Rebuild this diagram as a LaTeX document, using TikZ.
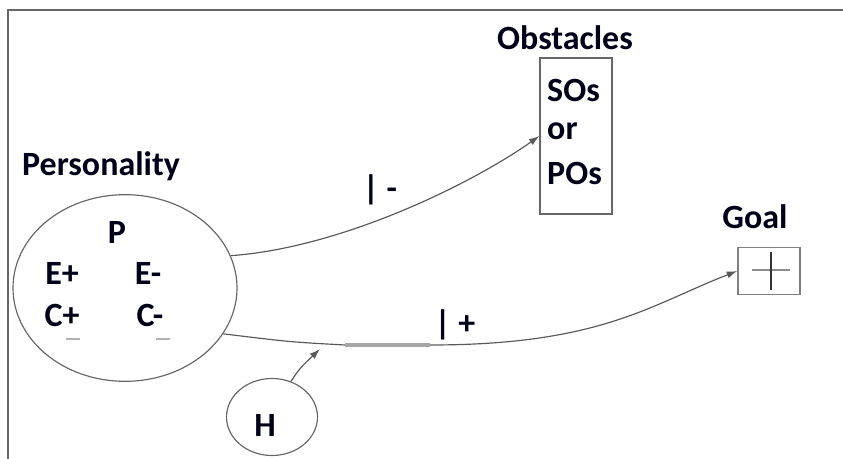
\documentclass[tikz,border=0pt]{standalone}
\usepackage{fontspec}
\setmainfont{Carlito}
\usetikzlibrary{arrows.meta,shapes.geometric}

\begin{document}
\begin{tikzpicture}[x=0.03cm,y=-0.03cm,
    lbl/.style={font=\fontsize{29}{32}\selectfont\bfseries, text=black!90!blue, inner sep=0pt},
    link/.style={draw=black!65, line width=1pt, -{Latex[length=9pt,width=6pt]}},
    frame/.style={draw=black!60, line width=1.3pt}]
                \useasboundingbox (0,0) rectangle (843,459);
                \draw[frame] (8,459) -- (8,10) -- (843,10);

                % personality
                \node[lbl] (perstitle) at (101,166) {Personality};
                \node[draw=black!60, line width=1pt, ellipse, minimum width=6.72cm, minimum height=5.6cm] (pers) at (125,288) {};
                \node[lbl] (p) at (117,232) {P};
                \node[lbl] (ep) at (62,273) {E+};
                \node[lbl] (em) at (148,273) {E-};
                \node[lbl] (cp) at (62,315) {C+};
                \node[lbl] (cm) at (150,315) {C-};
                \draw[black!30, line width=1pt] (66,339) -- (80,339);
                \draw[black!30, line width=1pt] (156,339) -- (170,339);

                % obstacles
                \node[lbl] (obsttitle) at (565,38) {Obstacles};
                \node[draw=black!60, line width=1pt, minimum width=2.16cm, minimum height=4.68cm] (obst) at (576,136) {};
                \node[lbl, anchor=west] (sos) at (547,90) {SOs};
                \node[lbl, anchor=west] (or) at (547,131) {or};
                \node[lbl, anchor=west] (pos) at (547,173) {POs};

                % goal
                \node[lbl] (goaltitle) at (755,217) {Goal};
                \node[draw=black!50, line width=1.3pt, minimum width=1.86cm, minimum height=1.41cm] (goal) at (769,271) {};
                \draw[black!45, line width=2pt] (752,270) -- (790,270);
                \draw[black!80, line width=1.2pt] (771,252) -- (771,290);

                % habit
                \node[draw=black!60, line width=1pt, ellipse, minimum width=2.73cm, minimum height=2.31cm] (h) at (272,417) {};
                \node[lbl] (hl) at (265,425) {H};

                % links
                \draw[link] (pers.17) .. controls (340,248) and (470,185) .. (obst.west);
                \node[lbl] (neg) at (380,190) {| -};

                \coordinate (ga) at (345,345);
                \coordinate (gb) at (430,345);
                \draw[draw=black!65, line width=1pt] (pers.-25) .. controls (290,342) .. (ga);
                \draw[black!35, line width=3pt] (ga) -- (gb);
                \draw[link] (gb) .. controls (600,345) and (650,305) .. (goal.west);
                \node[lbl] (pos) at (455,325) {| +};

                \coordinate (hend) at (320,349);
                \draw[link] (h.62) .. controls (300,368) .. (hend);
            \end{tikzpicture}
\end{document}
